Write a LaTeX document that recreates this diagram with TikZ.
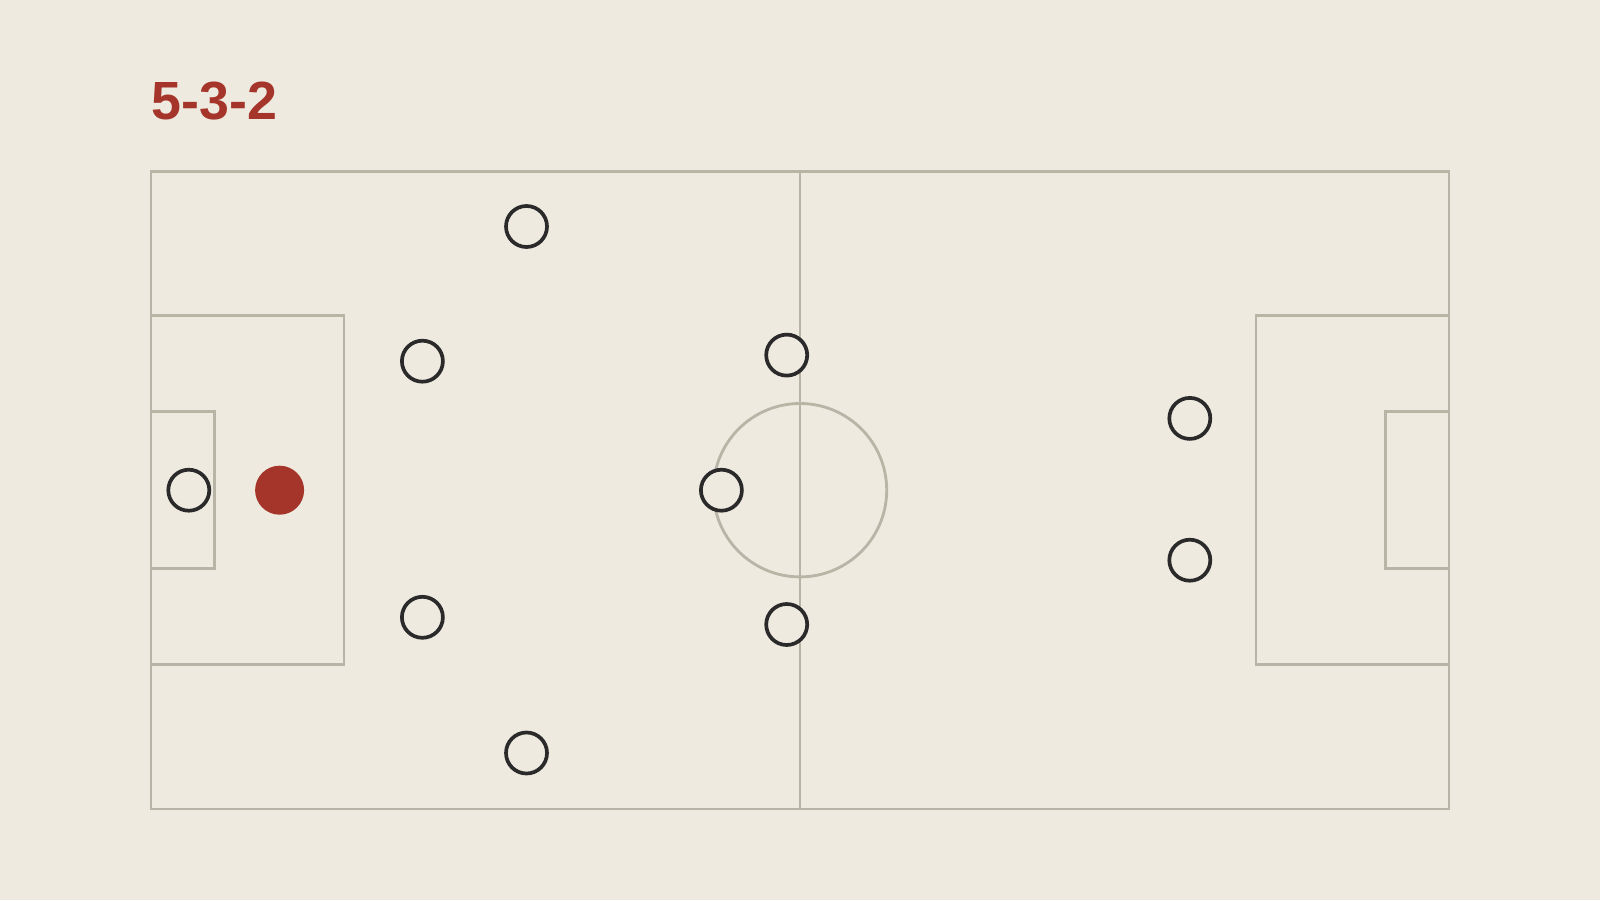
\documentclass[tikz,border=0pt]{standalone}
\usepackage{fontspec}
\setmainfont{Liberation Sans}
\usepackage{tikz}
\definecolor{paper}{HTML}{EEEAE0}
\definecolor{chalk}{HTML}{B8B4A6}
\definecolor{ink}{HTML}{2A2A2A}
\definecolor{brick}{HTML}{A5352A}
\tikzset{
	line/.style={draw=chalk,line width=0.8pt},
	player/.style={circle,draw=ink,line width=1.05pt,fill=paper,minimum size=0.41cm,inner sep=0pt},
	ball/.style={circle,fill=brick,draw=none,minimum size=0.49cm,inner sep=0pt}
}
\begin{document}
\begin{tikzpicture}
	\fill[paper] (0,0) rectangle (16,9);
	\useasboundingbox (0,0) rectangle (16,9);

	%title
	\node[anchor=base west,inner sep=0pt,text=brick,font=\bfseries\fontsize{15.3}{18}\selectfont] (title) at (1.51,7.806) {5-3-2};

	%pitch
	\draw[line] (1.51,0.91) rectangle (14.49,7.286);
	\draw[line] (8,0.91) -- (8,7.286);
	\draw[line] (8,4.098) circle (0.867);
	\draw[line] (1.51,5.843) -- (3.44,5.843) -- (3.44,2.353) -- (1.51,2.353);
	\draw[line] (1.51,4.884) -- (2.143,4.884) -- (2.143,3.312) -- (1.51,3.312);
	\draw[line] (14.49,5.843) -- (12.56,5.843) -- (12.56,2.353) -- (14.49,2.353);
	\draw[line] (14.49,4.884) -- (13.857,4.884) -- (13.857,3.312) -- (14.49,3.312);

	%players
	\node[player] (gk) at (1.888,4.098) {};
	\node[ball] (red) at (2.796,4.098) {};
	\node[player] (lwb) at (5.265,6.735) {};
	\node[player] (lcb) at (4.224,5.388) {};
	\node[player] (rcb) at (4.224,2.827) {};
	\node[player] (rwb) at (5.265,1.47) {};
	\node[player] (lcm) at (7.867,5.449) {};
	\node[player] (cm) at (7.214,4.098) {};
	\node[player] (rcm) at (7.867,2.755) {};
	\node[player] (ls) at (11.898,4.816) {};
	\node[player] (rs) at (11.898,3.398) {};
\end{tikzpicture}
\end{document}
